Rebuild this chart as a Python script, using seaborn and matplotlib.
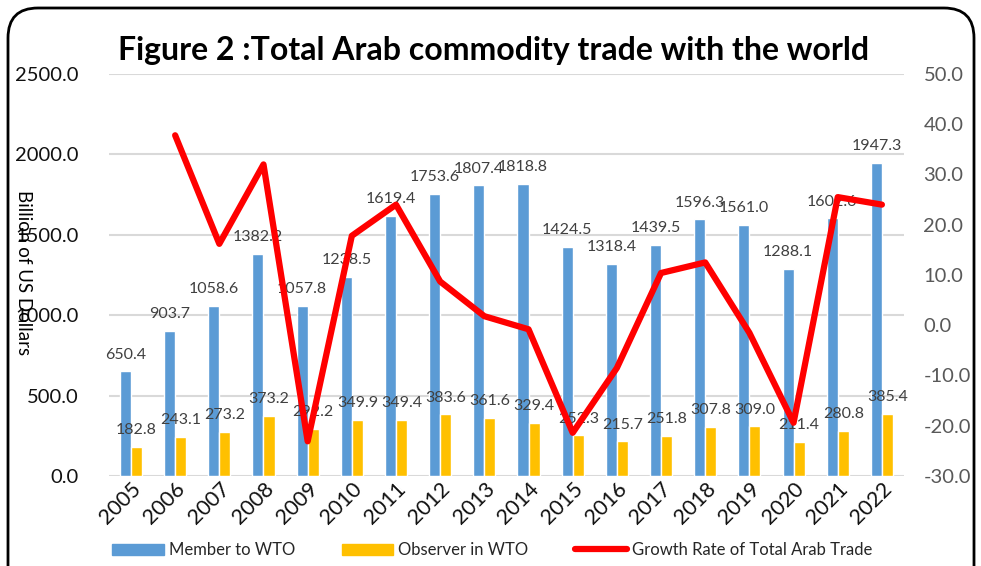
import matplotlib
matplotlib.use("Agg")
import matplotlib.pyplot as plt
import matplotlib.patches as mpatches
from matplotlib.lines import Line2D
import seaborn as sns
import pandas as pd
import numpy as np

years = ["2005", "2006", "2007", "2008", "2009", "2010", "2011", "2012", "2013",
         "2014", "2015", "2016", "2017", "2018", "2019", "2020", "2021", "2022"]
member = [650.4, 903.7, 1058.6, 1382.2, 1057.8, 1238.5, 1619.4, 1753.6, 1807.4,
          1818.8, 1424.5, 1318.4, 1439.5, 1596.3, 1561.0, 1288.1, 1602.6, 1947.3]
observer = [182.8, 243.1, 273.2, 373.2, 292.2, 349.9, 349.4, 383.6, 361.6,
            329.4, 252.3, 215.7, 251.8, 307.8, 309.0, 211.4, 280.8, 385.4]
growth_years = years[1:]
growth = [37.8, 16.2, 32.0, -23.1, 17.8, 24.0, 8.7, 1.8, -0.8,
          -21.4, -8.5, 10.4, 12.5, -1.5, -19.4, 25.5, 24.0]

series_names = ["Member to WTO", "Observer in WTO"]
line_name = "Growth Rate of Total Arab Trade"
colors = {"Member to WTO": "#5B9BD5", "Observer in WTO": "#FFC000"}
red = "#FF0000"

df = pd.DataFrame({
    "year": years * 2,
    "value": member + observer,
    "series": [series_names[0]] * len(years) + [series_names[1]] * len(years),
})
gdf = pd.DataFrame({"pos": [years.index(y) for y in growth_years], "growth": growth})

sns.set_theme(style="white")
plt.rcParams["font.family"] = ["Lato", "DejaVu Sans"]

fig = plt.figure(figsize=(9.81, 5.66), dpi=100)
ax = fig.add_axes([0.111, 0.159, 0.8105, 0.7103])

sns.barplot(data=df, x="year", y="value", hue="series", order=years,
            hue_order=series_names, palette=colors, width=0.5, gap=0,
            saturation=1, ax=ax, legend=False)

for cont in ax.containers:
    ax.bar_label(cont, fmt="%.1f", padding=7, fontsize=11.5, color="#404040")

ax.set_ylim(0, 2500)
ax.set_yticks(np.arange(0, 2501, 500))
ax.set_yticklabels([f"{v:.1f}" for v in np.arange(0, 2501, 500)])
ax.set_xlim(-0.5, len(years) - 0.5)
ax.grid(axis="y", color="#D9D9D9", linewidth=1.5)
ax.set_axisbelow(True)
for s in ax.spines.values():
    s.set_visible(False)
ax.tick_params(axis="y", length=0, pad=22, labelsize=14.5, labelcolor="#111111")
ax.tick_params(axis="x", length=0, pad=2, labelsize=15.5, labelcolor="#111111")
for lbl in ax.get_xticklabels():
    lbl.set_rotation(45)
    lbl.set_ha("right")
    lbl.set_va("top")
    lbl.set_rotation_mode("anchor")
ax.set_xlabel("")
ax.set_ylabel("")

ax2 = ax.twinx()
sns.lineplot(data=gdf, x="pos", y="growth", color=red, linewidth=4.5,
             ax=ax2, legend=False)
ax2.set_ylim(-30, 50)
ax2.set_yticks(np.arange(-30, 51, 10))
ax2.set_yticklabels([f"{v:.1f}" for v in np.arange(-30, 51, 10)])
ax2.tick_params(axis="y", length=0, pad=14, labelsize=14.5, labelcolor="#595959")
ax2.set_ylabel("")
ax2.set_xlabel("")
ax2.grid(False)
for s in ax2.spines.values():
    s.set_visible(False)
ax2.set_xlim(-0.5, len(years) - 0.5)

fig.text(0.503, 0.910, "Figure 2 :Total Arab commodity trade with the world",
         ha="center", va="center", fontsize=23, fontweight="bold", color="black")
fig.text(0.024, 0.519, "Billion of US Dollars", rotation=270, ha="center",
         va="center", fontsize=13.5, color="black")

handles = [mpatches.Patch(color=colors[series_names[0]]),
           mpatches.Patch(color=colors[series_names[1]]),
           Line2D([0], [0], color=red, linewidth=4.5)]
fig.legend(handles, series_names + [line_name], loc="center",
           bbox_to_anchor=(0.5015, 0.028), ncol=3, frameon=False, fontsize=12,
           handlelength=3.1, handleheight=0.65, handletextpad=0.3,
           columnspacing=2.8)

border = mpatches.FancyBboxPatch((0.08, -0.4), 9.66, 5.98,
                                 boxstyle="round,pad=0,rounding_size=0.3",
                                 transform=fig.dpi_scale_trans, fill=False,
                                 edgecolor="black", linewidth=2, clip_on=False)
fig.patches.append(border)

fig.savefig("out.png", dpi=100)
